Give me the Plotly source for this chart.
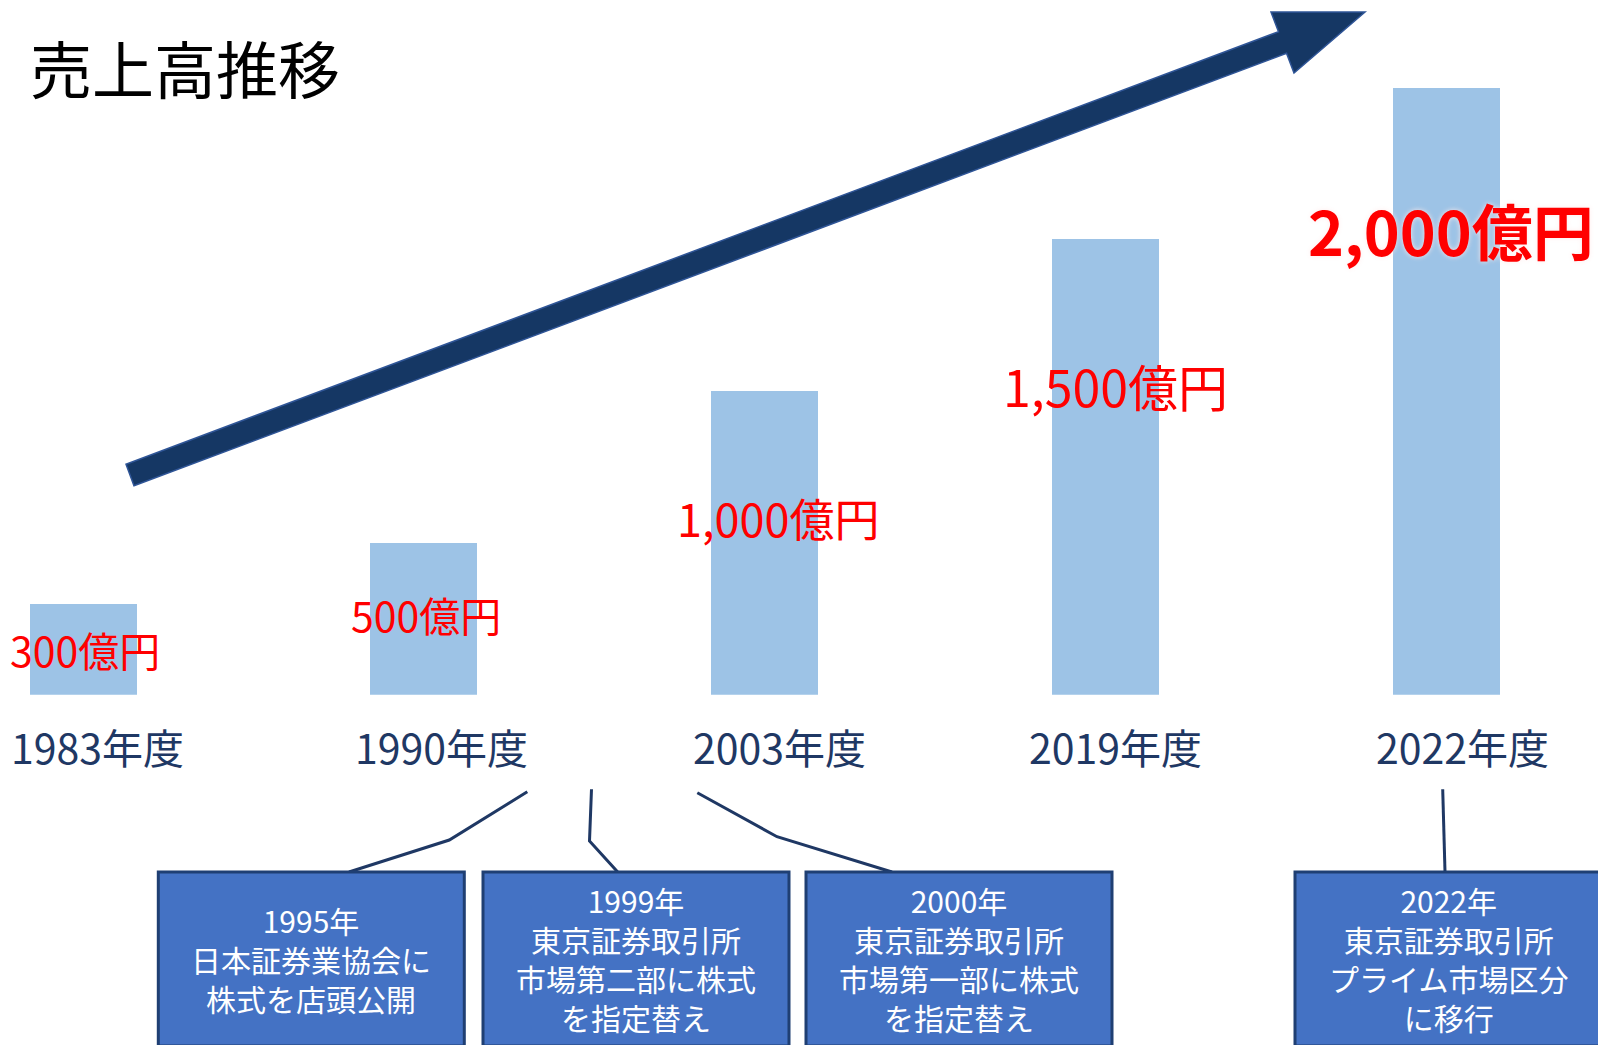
import plotly.graph_objects as go

# ---------------- data ----------------
title_text = "売上高推移"
years = ["1983年度", "1990年度", "2003年度", "2019年度", "2022年度"]
sales = [300, 500, 1000, 1500, 2000]  # 億円
sales_labels = ["300億円", "500億円", "1,000億円", "1,500億円", "2,000億円"]

event_years = ["1995年", "1999年", "2000年", "2022年"]
event_texts = [
    "日本証券業協会に<br>株式を店頭公開",
    "東京証券取引所<br>市場第二部に株式<br>を指定替え",
    "東京証券取引所<br>市場第一部に株式<br>を指定替え",
    "東京証券取引所<br>プライム市場区分<br>に移行",
]

# ---------------- style ----------------
W, H = 1598, 1045
FONT = "Noto Sans CJK JP, Noto Sans, sans-serif"
BAR_COLOR = "#9dc3e6"
NAVY = "#1f3864"
RED = "#ff0000"
BOX_FILL = "#4472c4"
BOX_LINE = "#1f3f73"

label_sizes = [41, 41, 45, 50, 61]
label_bold = [False, False, False, False, True]
label_dy = [45, 71, 126, 146, 142]   # px below bar top
label_dx = [2, 2, 13, 10, 4]
cat_dx = [14, 18, 15, 10, 16]

BASE_PX = 694.7          # pixel row of value 0
PX_PER_UNIT = 0.3036
X0_PX, X_STEP = 83.0, 340.9
BAR_W = 107 / X_STEP


def px(x, y):
    return x / W, 1 - y / H


fig = go.Figure()
fig.add_trace(go.Bar(
    x=years, y=sales, width=BAR_W,
    marker=dict(color=BAR_COLOR, line=dict(width=0)),
    hoverinfo="skip", showlegend=False,
))

annotations = []
shapes = []

# title
tx, ty = px(28, 67)
annotations.append(dict(
    text=title_text, xref="paper", yref="paper", x=tx, y=ty,
    xanchor="left", yanchor="middle", showarrow=False,
    font=dict(family=FONT, size=62, color="#000000"),
))

# value labels and category labels
for i, (cat, v, lab) in enumerate(zip(years, sales, sales_labels)):
    annotations.append(dict(
        text=f"<b>{lab}</b>" if label_bold[i] else lab,
        x=cat, y=v, xref="x", yref="y",
        xanchor="center", yanchor="middle", showarrow=False,
        xshift=label_dx[i], yshift=-label_dy[i],
        font=dict(family=FONT, size=label_sizes[i], color=RED,
                  shadow="0px 0px 5px rgba(255,235,235,0.95)" if label_bold[i] else "none"),
    ))
    annotations.append(dict(
        text=cat, x=cat, y=0, xref="x", yref="y",
        xanchor="center", yanchor="middle", showarrow=False,
        xshift=cat_dx[i], yshift=-(746 - BASE_PX),
        font=dict(family=FONT, size=41, color=NAVY),
    ))

# big arrow (decoration)
arrow_pts = [(126, 464.2), (1278.5, 31.7), (1271, 12), (1365, 12),
             (1294, 73), (1286.5, 53.3), (134, 485.8)]
path = "M " + " L ".join(f"{px(a, b)[0]:.5f},{px(a, b)[1]:.5f}" for a, b in arrow_pts) + " Z"
shapes.append(dict(type="path", path=path, xref="paper", yref="paper",
                   fillcolor="#153764", line=dict(color="#2f5597", width=1.5),
                   layer="above"))

# connector lines
connectors = [
    [(527.3, 791.7), (449.3, 840), (349, 872)],
    [(591.5, 789.3), (589.5, 841), (617.7, 872)],
    [(697.3, 792.7), (777, 836.7), (892, 872)],
    [(1442.7, 789.3), (1445, 872)],
]
for pts in connectors:
    p = "M " + " L ".join(f"{px(a, b)[0]:.5f},{px(a, b)[1]:.5f}" for a, b in pts)
    shapes.append(dict(type="path", path=p, xref="paper", yref="paper",
                       line=dict(color=NAVY, width=3)))

# event boxes
box_left = [158.3, 483, 806, 1295]
BOX_WID, BOX_TOP, BOX_BOT = 306, 872, 1046
for i, (yr, txt) in enumerate(zip(event_years, event_texts)):
    x0, y0 = px(box_left[i], BOX_TOP)
    x1, y1 = px(box_left[i] + BOX_WID, BOX_BOT)
    shapes.append(dict(type="rect", xref="paper", yref="paper",
                       x0=x0, x1=x1, y0=y1, y1=y0,
                       fillcolor=BOX_FILL, line=dict(color=BOX_LINE, width=3)))
    cx, cy = px(box_left[i] + BOX_WID / 2, 958.5)
    annotations.append(dict(
        text=f"{yr}<br>{txt}", xref="paper", yref="paper", x=cx, y=cy,
        xanchor="center", yanchor="middle", showarrow=False, align="center",
        font=dict(family=FONT, size=30, color="#ffffff"),
    ))

x_lo = -X0_PX / X_STEP
x_hi = (W - X0_PX) / X_STEP
y_top = BASE_PX / PX_PER_UNIT

fig.update_layout(
    width=W, height=H,
    margin=dict(l=0, r=0, t=0, b=0),
    paper_bgcolor="#ffffff", plot_bgcolor="#ffffff",
    xaxis=dict(range=[x_lo, x_hi], visible=False, type="category"),
    yaxis=dict(range=[0, y_top], domain=[(H - BASE_PX) / H, 1], visible=False),
    annotations=annotations, shapes=shapes,
    bargap=0,
)

fig.write_html("out.html",
               config={"displayModeBar": False},
               post_script="document.body.style.margin='0';document.body.style.overflow='hidden';")
